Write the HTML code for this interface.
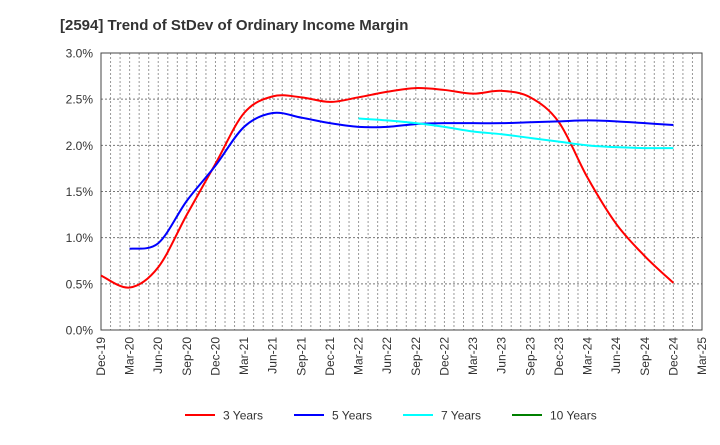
<!DOCTYPE html>
<html><head><meta charset="utf-8"><style>
body{margin:0;background:#fff;font-family:"Liberation Sans",Arial,sans-serif;}
svg text{font-family:"Liberation Sans",Arial,sans-serif;}
</style></head><body>
<svg id="chart" width="720" height="440" xmlns="http://www.w3.org/2000/svg">
<rect width="720" height="440" fill="#fff"/>
<text x="60" y="30" font-size="15" font-weight="bold" fill="#333">[2594]  Trend of StDev of Ordinary Income Margin</text>
<g id="grid"></g><g id="axes"></g><g id="series"></g><g id="legend"></g>
</svg>
<script>
const xLabels=["Dec-19","Mar-20","Jun-20","Sep-20","Dec-20","Mar-21","Jun-21","Sep-21","Dec-21","Mar-22","Jun-22","Sep-22","Dec-22","Mar-23","Jun-23","Sep-23","Dec-23","Mar-24","Jun-24","Sep-24","Dec-24","Mar-25"];
const yTicks=[0,0.5,1.0,1.5,2.0,2.5,3.0];
const yTickLabels=["0.0%","0.5%","1.0%","1.5%","2.0%","2.5%","3.0%"];
const seriesNames=["3 Years","5 Years","7 Years","10 Years"];
const seriesColors=["#ff0000","#0000ff","#00ffff","#008000"];
const s3=[0.59,0.46,0.68,1.25,1.8,2.35,2.53,2.52,2.47,2.52,2.58,2.62,2.6,2.56,2.59,2.52,2.25,1.65,1.15,0.8,0.51];
const s3Start=0;
const s5=[0.88,0.94,1.4,1.78,2.2,2.35,2.3,2.24,2.2,2.2,2.23,2.24,2.24,2.24,2.25,2.26,2.27,2.26,2.24,2.22];
const s5Start=1;
const s7=[2.29,2.27,2.24,2.2,2.15,2.12,2.08,2.04,2.0,1.98,1.97,1.97];
const s7Start=9;
const s10=[];
const s10Start=0;

const L=101,R=702,T=53,B=330,NS="http://www.w3.org/2000/svg";
const X=i=>L+(R-L)*i/(xLabels.length-1);
const Y=v=>B-(B-T)*v/3.0;
function mk(tag,attrs,parent){const e=document.createElementNS(NS,tag);for(const k in attrs)e.setAttribute(k,attrs[k]);parent.appendChild(e);return e;}
const grid=document.getElementById('grid'),axes=document.getElementById('axes'),ser=document.getElementById('series'),leg=document.getElementById('legend');
const months=(xLabels.length-1)*3;
for(let m=1;m<months;m++){const x=L+(R-L)*m/months;
 const g=mk('line',{x1:x,x2:x,y1:T,y2:B,stroke:'#999','stroke-width':1,'stroke-dasharray':'2,2'},grid);
 
 }
yTicks.forEach((v,i)=>{const y=Y(v);
 if(v>0&&v<3){const g=mk('line',{x1:L,x2:R,y1:y,y2:y,stroke:'#777','stroke-width':1,'stroke-dasharray':'2,2'},grid);
 
 }
 const t=mk('text',{x:93,y:y+4.5,'text-anchor':'end','font-size':12,fill:'#333'},axes);t.textContent=yTickLabels[i];
 
 });
const fr=mk('rect',{x:L,y:T,width:R-L,height:B-T,fill:'none',stroke:'#444','stroke-width':1},axes);


xLabels.forEach((lb,i)=>{const x=X(i);
 const t=mk('text',{x:0,y:0,transform:`translate(${x+4},337) rotate(-90)`,'text-anchor':'end','font-size':12,fill:'#333'},axes);t.textContent=lb;
 
 });
function path(vals,start){const p=vals.map((v,i)=>[X(i+start),Y(v)]);if(p.length<2)return '';
 let d=`M${p[0][0]},${p[0][1]}`;
 for(let i=0;i<p.length-1;i++){const p0=p[i-1]||p[i],p1=p[i],p2=p[i+1],p3=p[i+2]||p2;
  const c1=[p1[0]+(p2[0]-p0[0])/6,p1[1]+(p2[1]-p0[1])/6],c2=[p2[0]-(p3[0]-p1[0])/6,p2[1]-(p3[1]-p1[1])/6];
  d+=`C${c1[0]},${c1[1]} ${c2[0]},${c2[1]} ${p2[0]},${p2[1]}`;}
 return d;}
[[s3,s3Start],[s5,s5Start],[s7,s7Start],[s10,s10Start]].forEach(([v,s],k)=>{const d=path(v,s);if(!d)return;
 const e=mk('path',{d:d,fill:'none',stroke:seriesColors[k],'stroke-width':2},ser);
 
 });
const lx=[185,294,403,512];
seriesNames.forEach((n,k)=>{
 const g=mk('g',{},leg);
 
 
 mk('line',{x1:lx[k],x2:lx[k]+30,y1:415,y2:415,stroke:seriesColors[k],'stroke-width':2},g);
 const t=mk('text',{x:lx[k]+38,y:419.5,'font-size':12,fill:'#333'},g);t.textContent=n;});
</script>
</body></html>
